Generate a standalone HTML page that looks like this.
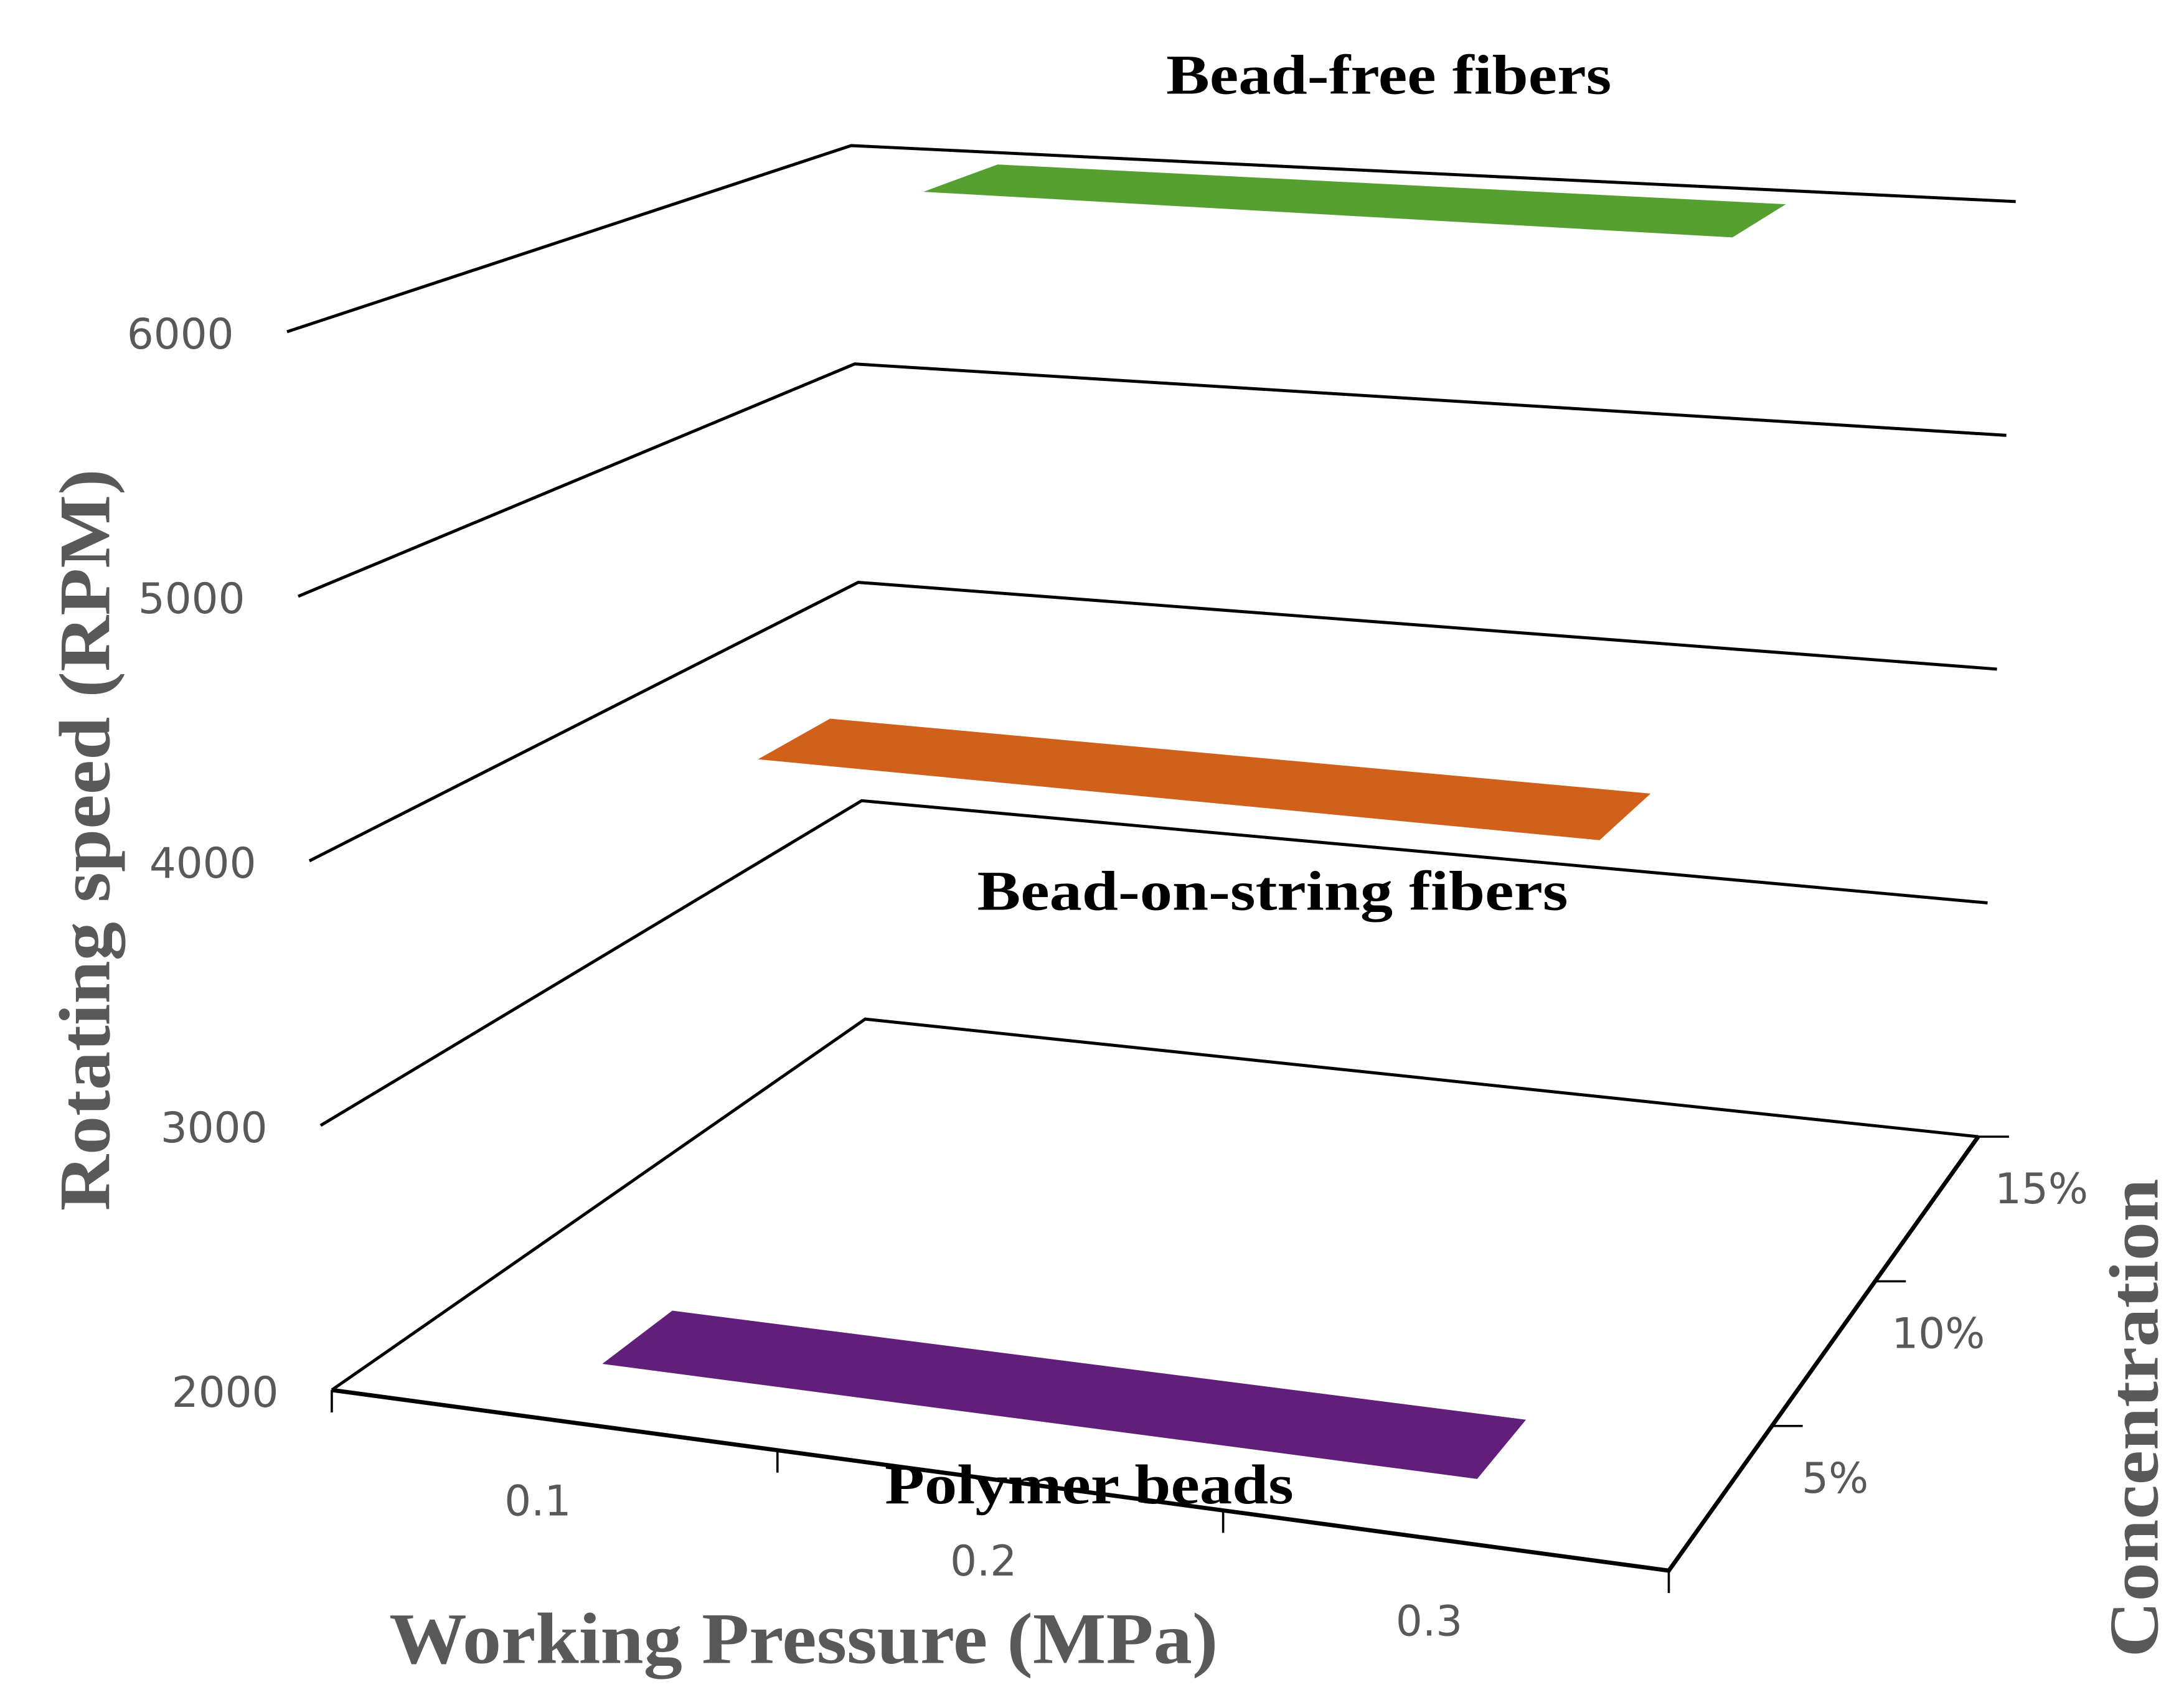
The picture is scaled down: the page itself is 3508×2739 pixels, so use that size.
<!DOCTYPE html>
<html><head><meta charset="utf-8">
<style>
html,body{margin:0;padding:0;background:#fff;}
svg{display:block;}
</style></head>
<body>
<svg id="chart" width="3508" height="2739" viewBox="0 0 1560 1218" preserveAspectRatio="none" xmlns="http://www.w3.org/2000/svg">
<rect width="1560" height="1218" fill="#fff"/>
<g id="grid"></g>
<g id="axes"></g>
<g id="bars"></g>
<g id="labels"></g>
<text x="992" y="67" text-anchor="middle" font-family="Liberation Serif, serif" font-weight="bold" font-size="40" textLength="318" lengthAdjust="spacingAndGlyphs" fill="#000">Bead-free fibers</text>
<text x="909" y="650" text-anchor="middle" font-family="Liberation Serif, serif" font-weight="bold" font-size="40" textLength="422" lengthAdjust="spacingAndGlyphs" fill="#000">Bead-on-string fibers</text>
<text x="778" y="1074" text-anchor="middle" font-family="Liberation Serif, serif" font-weight="bold" font-size="40" textLength="292" lengthAdjust="spacingAndGlyphs" fill="#000">Polymer beads</text>
<text x="574" y="1188" text-anchor="middle" font-family="Liberation Serif, serif" font-weight="bold" font-size="52" textLength="592" lengthAdjust="spacingAndGlyphs" fill="#595959">Working Pressure (MPa)</text>
<text transform="translate(78,600) rotate(-90)" text-anchor="middle" font-family="Liberation Serif, serif" font-weight="bold" font-size="52" textLength="530" lengthAdjust="spacingAndGlyphs" fill="#595959">Rotating speed (RPM)</text>
<text transform="translate(1541,1013) rotate(-90)" text-anchor="middle" font-family="Liberation Serif, serif" font-weight="bold" font-size="50" textLength="342" lengthAdjust="spacingAndGlyphs" fill="#595959">Concentration</text>
</svg>
<script>
const yTicks = [2000, 3000, 4000, 5000, 6000];
const xTickLabels = ["0.1", "0.2", "0.3"];
const zTickLabels = ["5%", "10%", "15%"];
const seriesNames = ["Polymer beads", "Bead-on-string fibers", "Bead-free fibers"];
const seriesValues = [2000, 3950, 6000];
const seriesColors = ["#621e7b", "#d0601a", "#56a032"];

const NS = "http://www.w3.org/2000/svg";
const FL=[237,993], FR=[1192,1122], BL=[618,728], BR=[1413,812];
const oFL=[-8,-189], oBL=[-2.5,-156], oBR=[6.7,-167];
const oFR=[oFL[0]+oBR[0]-oBL[0], oFL[1]+oBR[1]-oBL[1]];
function bil(a,b,c,d,u,w){
  return [0,1].map(i=>(1-u)*(1-w)*a[i]+u*(1-w)*b[i]+(1-u)*w*c[i]+u*w*d[i]);
}
function P(u,w,v){
  const f=bil(FL,FR,BL,BR,u,w), o=bil(oFL,oFR,oBL,oBR,u,w), t=(v-2000)/1000;
  return [f[0]+o[0]*t, f[1]+o[1]*t];
}
function el(tag, attrs, parent){
  const e=document.createElementNS(NS,tag);
  for(const k in attrs) e.setAttribute(k,attrs[k]);
  parent.appendChild(e); return e;
}
const grid=document.getElementById('grid'), axes=document.getElementById('axes'),
      bars=document.getElementById('bars'), labels=document.getElementById('labels');
const pt=p=>p[0].toFixed(1)+','+p[1].toFixed(1);

yTicks.forEach((v,i)=>{
  const pts=[P(0,0,v),P(0,1,v),P(1,1,v)];
  const line=el('polyline',{points:pts.map(pt).join(' '),fill:'none',stroke:'#000','stroke-width':2.2},grid);
  
  
  const a=pts[0];
  const t=el('text',{x:a[0]-38,y:a[1]+12,'text-anchor':'end','font-family':'DejaVu Sans, Liberation Sans, sans-serif','font-size':30,fill:'#595959'},labels);
  t.textContent=String(v);
  
  
});

const fe=el('polyline',{points:[P(0,0,2000),P(1,0,2000),P(1,1,2000)].map(pt).join(' '),fill:'none',stroke:'#000','stroke-width':3},axes);


for(let i=0;i<=xTickLabels.length;i++){
  const p=P(i/xTickLabels.length,0,2000);
  const tk=el('line',{x1:p[0],y1:p[1],x2:p[0],y2:p[1]+16,stroke:'#000','stroke-width':1.6},axes);
  
  
}
xTickLabels.forEach((s,i)=>{
  const p=P((i+0.5)/xTickLabels.length,0,2000);
  const t=el('text',{x:p[0]-12,y:p[1]+68,'text-anchor':'middle','font-family':'DejaVu Sans, Liberation Sans, sans-serif','font-size':30,fill:'#595959'},labels);
  t.textContent=s;
  
  
});
for(let i=1;i<=zTickLabels.length;i++){
  const p=P(1,i/zTickLabels.length,2000);
  const tk=el('line',{x1:p[0],y1:p[1],x2:p[0]+22,y2:p[1],stroke:'#000','stroke-width':1.6},axes);
  
  
}
zTickLabels.forEach((s,i)=>{
  const p=P(1,(i+0.5)/zTickLabels.length,2000);
  const t=el('text',{x:p[0]+82,y:p[1]-4,'text-anchor':'middle','font-family':'DejaVu Sans, Liberation Sans, sans-serif','font-size':30,fill:'#595959'},labels);
  t.textContent=s;
  
  
});
seriesValues.forEach((v,i)=>{
  const w0=(i+0.42)/3, w1=(i+0.84)/3, u0=0.15, u1=0.82;
  const pts=[P(u0,w0,v),P(u0,w1,v),P(u1,w1,v),P(u1,w0,v)];
  const poly=el('polygon',{points:pts.map(pt).join(' '),fill:seriesColors[i]},bars);
  
  
});
</script>
</body></html>
